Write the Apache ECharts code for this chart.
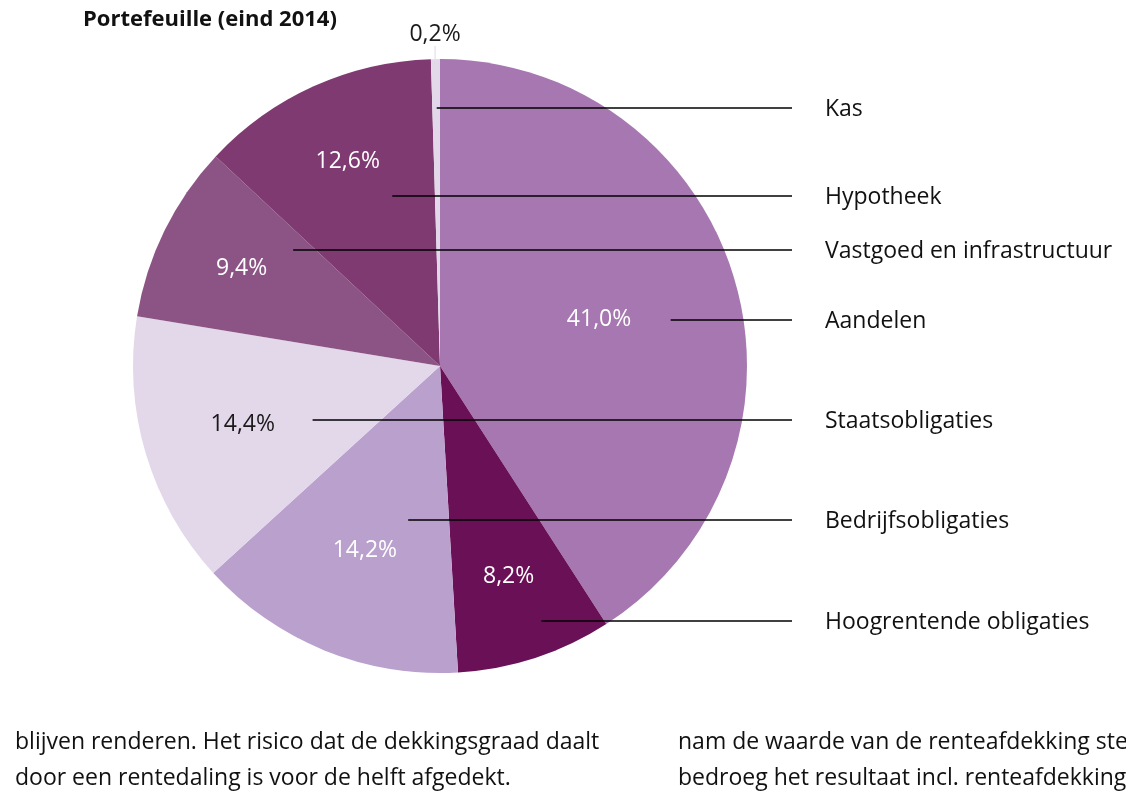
<!DOCTYPE html>
<html>
<head>
<meta charset="utf-8">
<title>Portefeuille (eind 2014)</title>
<script src="https://cdn.jsdelivr.net/npm/echarts@6/dist/echarts.min.js"></script>
<style>
  html, body { margin: 0; padding: 0; background: #fff; }
  #chart { width: 1126px; height: 792px; }
</style>
</head>
<body>
<div id="chart"></div>
<script>
// data, clockwise from the top
const categories = ['Aandelen', 'Hoogrentende obligaties', 'Bedrijfsobligaties', 'Staatsobligaties',
  'Vastgoed en infrastructuur', 'Hypotheek', 'Kas']
const shares = [41.0, 8.2, 14.2, 14.4, 9.4, 12.6, 0.2]

// styles
const sliceColors = ['#a777b1', '#6a1056', '#baa1cd', '#e3d7ea', '#8c5485', '#7f3a71', '#e3d7ea']
const pctColors = ['#fff', '#fff', '#fff', '#1a1a1a', '#fff', '#fff', '#1a1a1a']

// layout of the annotations
const CX = 440, CY = 366, R = 307
const MIN_ANGLE = 1.7
const pctRadius = [0.54, 0.72, 0.65, 0.67, 0.72, 0.73, 1.08] // fraction of R, at slice mid angle
const nameY = [320, 621, 520, 420, 250, 196, 108]             // y of name label / leader line
const leaderPos = [0.76, 0.58, 0.77, 0.72, 0.86, 0.76, 0.6]   // where the line starts across the slice
const LINE_END = 792, NAME_X = 825
const FONT = "'Open Sans', sans-serif"
const FS = 23

const fmtPct = v => v.toFixed(1).replace('.', ',') + '%'

// same angle split as the pie layout (clockwise from top, degrees)
function sliceAngles () {
  const total = shares.reduce((a, b) => a + b, 0)
  const raw = shares.map(v => v / total * 360)
  const small = raw.map(a => a < MIN_ANGLE)
  const fixed = small.reduce((s, f) => s + (f ? MIN_ANGLE : 0), 0)
  const bigSum = raw.reduce((s, a, i) => s + (small[i] ? 0 : a), 0)
  const ang = raw.map((a, i) => small[i] ? MIN_ANGLE : a * (360 - fixed) / bigSum)
  let start = 0
  return ang.map(a => { const r = [start, start + a]; start += a; return r })
}
const angles = sliceAngles()

function inSlice (x, dy, i) {
  if (x * x + dy * dy > R * R) return false
  let t = Math.atan2(x, -dy) * 180 / Math.PI
  if (t < 0) t += 360
  return t >= angles[i][0] && t <= angles[i][1]
}

function leaderStart (i) {
  const dy = nameY[i] - CY
  let lo = null, hi = null
  for (let x = -R; x <= R; x += 0.5) {
    if (inSlice(x, dy, i)) { if (lo === null) lo = x; hi = x }
  }
  if (lo === null) return CX
  return CX + lo + (hi - lo) * leaderPos[i]
}

const chart = echarts.init(document.getElementById('chart'))

const bodyText = (x, y, text) => ({
  type: 'text', x, y,
  style: { text, font: FS + 'px ' + FONT, fill: '#111', verticalAlign: 'middle' }
})

const option = {
  backgroundColor: '#fff',
  animation: false,
  title: {
    text: 'Portefeuille (eind 2014)',
    left: 78,
    top: 4,
    textStyle: { fontFamily: FONT, fontSize: 22, fontWeight: 'bold', color: '#111' }
  },
  series: [
    {
      type: 'pie',
      center: [CX, CY],
      radius: R,
      startAngle: 90,
      clockwise: true,
      minAngle: MIN_ANGLE,
      avoidLabelOverlap: false,
      silent: true,
      itemStyle: { borderWidth: 0 },
      label: {
        show: true,
        position: 'inside',
        fontFamily: FONT,
        fontSize: FS,
        formatter: p => fmtPct(p.value)
      },
      labelLayout: p => {
        const i = p.dataIndex
        const mid = (angles[i][0] + angles[i][1]) / 2 * Math.PI / 180
        return {
          x: CX + pctRadius[i] * R * Math.sin(mid),
          y: CY - pctRadius[i] * R * Math.cos(mid),
          align: 'center',
          verticalAlign: 'middle'
        }
      },
      data: categories.map((name, i) => ({
        name,
        value: shares[i],
        itemStyle: { color: sliceColors[i] },
        label: { color: pctColors[i] }
      }))
    },
    {
      // overlay carrying the category names and leader lines
      type: 'pie',
      center: [CX, CY],
      radius: R,
      startAngle: 90,
      clockwise: true,
      minAngle: MIN_ANGLE,
      avoidLabelOverlap: false,
      silent: true,
      z: 5,
      itemStyle: { color: 'rgba(0,0,0,0)', borderWidth: 0 },
      label: {
        show: true,
        position: 'outside',
        formatter: '{b}',
        fontFamily: FONT,
        fontSize: FS,
        color: '#111'
      },
      labelLine: { show: true, lineStyle: { color: '#000', width: 1.3 } },
      labelLayout: p => {
        const i = p.dataIndex
        const y = nameY[i]
        const x0 = leaderStart(i)
        return {
          x: NAME_X,
          y: y + 1,
          align: 'left',
          verticalAlign: 'middle',
          labelLinePoints: [[x0, y], [(x0 + LINE_END) / 2, y], [LINE_END, y]]
        }
      },
      data: categories.map((name, i) => ({ name, value: shares[i] }))
    }
  ],
  graphic: [
    bodyText(15, 742, 'blijven renderen. Het risico dat de dekkingsgraad daalt'),
    bodyText(15, 778, 'door een rentedaling is voor de helft afgedekt.'),
    bodyText(678, 742, 'nam de waarde van de renteafdekking sterk toe'),
    bodyText(678, 778, 'bedroeg het resultaat incl. renteafdekking')
  ]
}

chart.setOption(option)
window.addEventListener('resize', () => chart.resize())
</script>
</body>
</html>
